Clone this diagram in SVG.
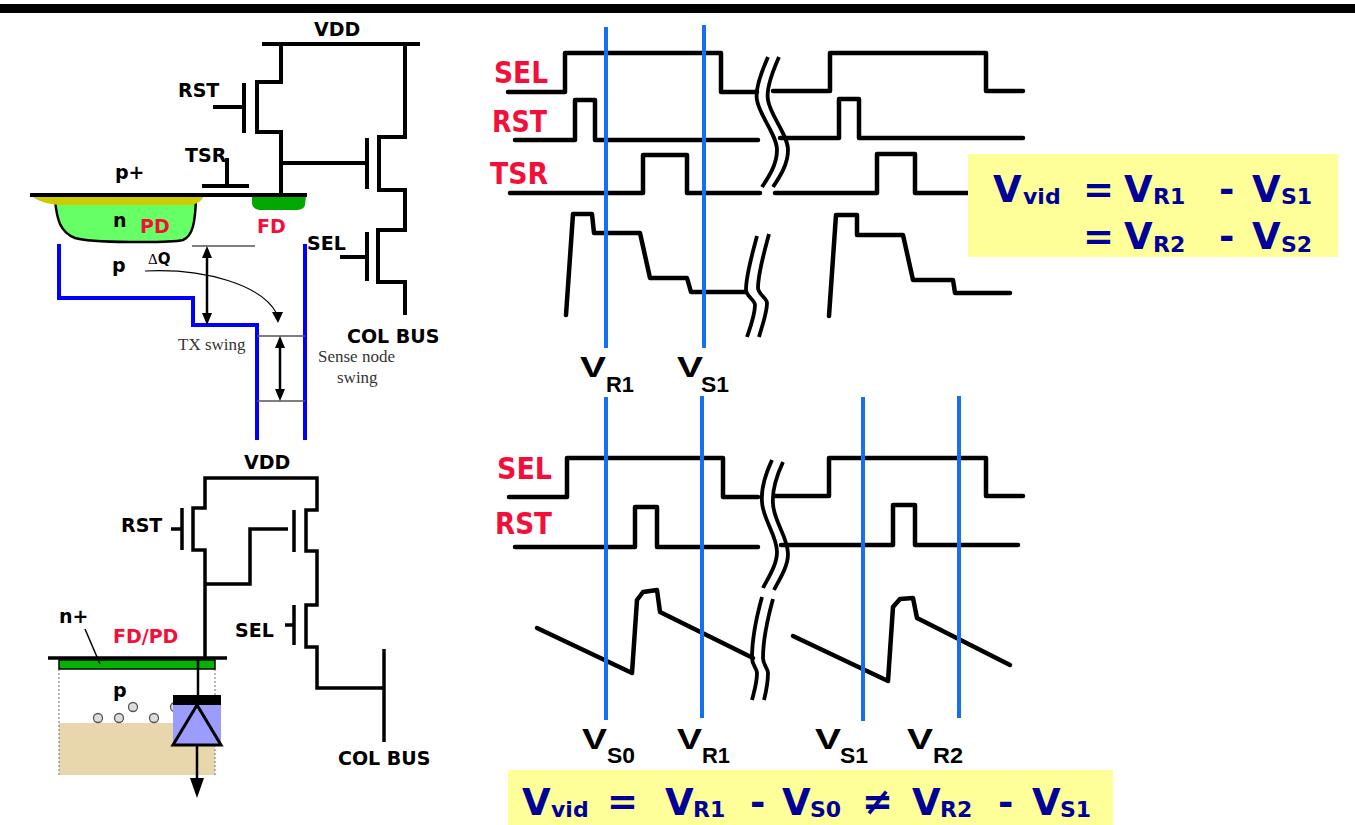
<svg xmlns="http://www.w3.org/2000/svg" width="1355" height="825" viewBox="0 0 1355 825">
  <style>
    .w { fill:none; stroke:#000; stroke-width:4; stroke-linejoin:miter; }
    .w2 { fill:none; stroke:#000; stroke-width:3.5; stroke-linejoin:miter; }
    .wv { fill:none; stroke:#000; stroke-width:4.5; stroke-linecap:round; stroke-linejoin:round; }
    .brk { fill:none; stroke:#000; stroke-width:3.8; }
    .cur { stroke:#1570ef; stroke-width:4; }
    .pot { fill:none; stroke:#0000ff; stroke-width:4; }
    .thin { stroke:#555; stroke-width:1.5; }
    .lbl { font-family:"DejaVu Sans",sans-serif; font-weight:bold; font-size:19px; fill:#000; }
    .red { fill:#f2103a; }
    .sig { font-family:"DejaVu Sans",sans-serif; font-weight:bold; font-size:31px; fill:#f2103a; }
    .vm { font-family:"Liberation Sans",Arial,sans-serif; font-weight:bold; font-size:29px; fill:#000; }
    .vs { font-family:"Liberation Sans",Arial,sans-serif; font-weight:bold; font-size:22px; fill:#000; }
    .ser { font-family:"Liberation Serif","DejaVu Serif",serif; font-size:17px; fill:#333; }
    .eq { font-family:"DejaVu Sans",sans-serif; font-weight:bold; font-size:37px; fill:#000099; }
    .eqs { font-family:"DejaVu Sans",sans-serif; font-weight:bold; font-size:22px; fill:#000099; }
    .box { fill:#ffff99; }
  </style>

  <!-- header rule -->
  <rect id="header-bar" x="0" y="4" width="1355" height="9" fill="#000"/>

  <!-- 4T pixel with pinned photodiode -->
  <g id="pixel-4t">
    <path d="M55,200 C57,220 60,232 75,238 C90,243 170,243 183,240 C193,236 195,222 196,200 Z" fill="#66ff66" stroke="#000" stroke-width="2.5"/>
    <path d="M31,195 H204 C203,200 198,204 190,205 H60 C45,204 35,200 31,195 Z" fill="#cccc00"/>
    <path d="M252,196 H306 L305,205 C304,209 300,210 296,210 H262 C256,210 253,208 252,204 Z" fill="#00a800"/>
    <path class="w" d="M30,195 H307" stroke-width="3"/>
    <path class="w" d="M262,44 H420"/>
    <path class="w" d="M281,44 V82 H257 V132 H281 V195"/>
    <path class="w" d="M281,163 H365"/>
    <path class="w" d="M244,83 V133 M213,107 H244"/>
    <path class="w" d="M367,138 V189"/>
    <path class="w" d="M405,44 V137 H379 V190 H405 V230 H378 V282 H405 V315"/>
    <path class="w" d="M367,232 V281 M340,257 H367"/>
    <path class="w" d="M202,186 H249 M227,158 V186"/>
    <text class="lbl" x="314" y="36">VDD</text>
    <text class="lbl" x="178" y="97">RST</text>
    <text class="lbl" x="185" y="162">TSR</text>
    <text class="lbl" x="115" y="179">p+</text>
    <text class="lbl" x="113" y="227">n</text>
    <text class="lbl red" x="140" y="233" font-size="19">PD</text>
    <text class="lbl red" x="257" y="233" font-size="19">FD</text>
    <text class="lbl" x="307" y="250">SEL</text>
    <text class="lbl" x="347" y="343">COL BUS</text>
  </g>

  <!-- potential well diagram -->
  <g id="potential-diagram">
    <path class="pot" d="M59,244 V298 H193 V325 H257 V440"/>
    <path class="pot" d="M305,244 V440"/>
    <path class="thin" d="M192,246 H255 M257,336 H305 M257,401 H305"/>
    <path d="M207,250 V321 M280,340 V397" stroke="#000" stroke-width="2.5"/>
    <polygon points="207,246 202,258 212,258" fill="#000"/>
    <polygon points="207,325 202,313 212,313" fill="#000"/>
    <polygon points="280,336 275,348 285,348" fill="#000"/>
    <polygon points="280,401 275,389 285,389" fill="#000"/>
    <path d="M145,271 C205,268 262,285 277,314" fill="none" stroke="#000" stroke-width="1.2"/>
    <polygon points="278,323 272,312 283,312" fill="#000"/>
    <text class="lbl" x="112" y="272">p</text>
    <text x="148" y="264" font-size="15"><tspan font-family="Liberation Serif,serif">Δ</tspan><tspan font-family="DejaVu Sans,sans-serif" font-weight="bold">Q</tspan></text>
    <text class="ser" x="178" y="350">TX swing</text>
    <text class="ser" x="318" y="362">Sense node</text>
    <text class="ser" x="337" y="383">swing</text>
  </g>

  <!-- 3T pixel -->
  <g id="pixel-3t">
    <rect x="59" y="723" width="156" height="52" fill="#e8d6ad"/>
    <path d="M59,669 V775 M215,669 V775" stroke="#888" stroke-width="1.2" stroke-dasharray="2,2"/>
    <g fill="#ddd" stroke="#555" stroke-width="1.3">
      <circle cx="98" cy="718" r="4.5"/>
      <circle cx="119" cy="718" r="4.5"/>
      <circle cx="133" cy="707" r="4.5"/>
      <circle cx="154" cy="718" r="4.5"/>
      <circle cx="175" cy="707" r="4.5"/>
    </g>
    <rect x="59" y="660" width="156" height="9" fill="#00b400" stroke="#000" stroke-width="1.5"/>
    <path class="w2" d="M48,658 H227"/>
    <path d="M198,659 V695" stroke="#000" stroke-width="2.5"/>
    <rect x="173" y="705" width="48" height="40" fill="#9c9cff"/>
    <rect x="173" y="695" width="48" height="10" fill="#000"/>
    <polygon points="197,705 173,745 221,745" fill="#9c9cff" stroke="#000" stroke-width="3" stroke-linejoin="miter"/>
    <path d="M197,745 V782" stroke="#000" stroke-width="2.5"/>
    <polygon points="190,778 204,778 197,798" fill="#000"/>
    <path d="M85,629 L100,664" stroke="#000" stroke-width="1.5"/>
    <path class="w2" d="M205,659 V550 H193 V508 H205 V478 H317 V510 H306 V551 H317 V605 H306 V647 H317 V688 H384"/>
    <path class="w2" d="M182,508 V550 M171,529 H182"/>
    <path class="w2" d="M205,584 H250 V529 H288 M294,510 V552"/>
    <path class="w2" d="M294,605 V645 M285,625 H294"/>
    <path class="w2" d="M384,649 V742"/>
    <text class="lbl" x="244" y="469">VDD</text>
    <text class="lbl" x="121" y="532">RST</text>
    <text class="lbl" x="235" y="637">SEL</text>
    <text class="lbl" x="59" y="623">n+</text>
    <text class="lbl red" x="113" y="643" font-size="20">FD/PD</text>
    <text class="lbl" x="113" y="697">p</text>
    <text class="lbl" x="338" y="765">COL BUS</text>
  </g>

  <!-- timing, 4T readout -->
  <g id="timing-4t">
    <path class="wv" d="M508,92 H565 V53 H721 V92 H757 M773,91 H830 V53 H986 V91 H1023"/>
    <path class="wv" d="M515,140 H575 V100 H595 V140 H758 M780,138 H839 V99 H859 V138 H1023"/>
    <path class="wv" d="M510,193 H643 V155 H687 V193 H760 M775,193 H877 V154 H915 V193 H968"/>
    <path class="wv" d="M566,315 L573,214 H592 L594,233 H640 L650,278 H687 L691,292 H746"/>
    <path class="wv" d="M829,316 L836,215 H857 V235 H903 L913,280 H953 L955,293 H1010"/>
    <path class="brk" d="M768,57 C760,75 755,90 757,100 C759,115 777,135 777,150 C777,165 768,178 762,187"/>
    <path class="brk" d="M779,57 C771,75 766,90 768,100 C770,115 788,135 788,150 C788,165 779,178 773,187"/>
    <path class="brk" d="M757,236 C752,255 746,275 746,290 C746,296 755,300 755,305 C755,315 750,328 747,337"/>
    <path class="brk" d="M769,234 C764,253 758,273 758,288 C758,294 767,298 767,303 C767,313 762,326 759,337"/>
    <line class="cur" x1="606" y1="27" x2="606" y2="348"/>
    <line class="cur" x1="704" y1="25" x2="704" y2="348"/>
    <text class="sig" x="494" y="83" textLength="54" lengthAdjust="spacingAndGlyphs">SEL</text>
    <text class="sig" x="492" y="132" textLength="55" lengthAdjust="spacingAndGlyphs">RST</text>
    <text class="sig" x="490" y="184" textLength="58" lengthAdjust="spacingAndGlyphs">TSR</text>
    <text class="vm" x="580" y="377" textLength="26" lengthAdjust="spacingAndGlyphs">V</text>
    <text class="vs" x="606" y="392" textLength="28" lengthAdjust="spacingAndGlyphs">R1</text>
    <text class="vm" x="677" y="377" textLength="26" lengthAdjust="spacingAndGlyphs">V</text>
    <text class="vs" x="701" y="392" textLength="28" lengthAdjust="spacingAndGlyphs">S1</text>
  </g>

  <!-- timing, 3T readout -->
  <g id="timing-3t">
    <path class="wv" d="M509,497 H567 V458 H723 V497 H758 M775,496 H829 V458 H986 V496 H1023"/>
    <path class="wv" d="M515,547 H635 V507 H657 V547 H758 M781,545 H893 V505 H915 V545 H1018"/>
    <path class="wv" d="M537,628 L632,673 L637,600 L643,592 L657,590 L660,612 L753,658"/>
    <path class="wv" d="M793,636 L888,681 L893,607 L900,599 L913,598 L917,618 L1010,665"/>
    <path class="brk" d="M772,460 C765,475 761,490 762,502 C763,520 777,535 777,552 C777,565 768,578 763,588"/>
    <path class="brk" d="M783,462 C776,477 772,492 773,504 C774,522 788,537 788,554 C788,567 779,580 774,590"/>
    <path class="brk" d="M762,597 C757,615 752,640 752,658 C752,665 757,668 757,673 C757,683 754,692 752,700"/>
    <path class="brk" d="M773,599 C768,617 763,642 763,658 C763,665 768,668 768,673 C768,683 766,692 764,700"/>
    <line class="cur" x1="606" y1="397" x2="606" y2="720"/>
    <line class="cur" x1="702" y1="396" x2="702" y2="718"/>
    <line class="cur" x1="863" y1="397" x2="863" y2="721"/>
    <line class="cur" x1="959" y1="396" x2="959" y2="718"/>
    <text class="sig" x="497" y="479" textLength="55" lengthAdjust="spacingAndGlyphs">SEL</text>
    <text class="sig" x="495" y="534" textLength="57" lengthAdjust="spacingAndGlyphs">RST</text>
    <text class="vm" x="582" y="749" textLength="25" lengthAdjust="spacingAndGlyphs">V</text>
    <text class="vs" x="607" y="763" textLength="28" lengthAdjust="spacingAndGlyphs">S0</text>
    <text class="vm" x="677" y="749" textLength="25" lengthAdjust="spacingAndGlyphs">V</text>
    <text class="vs" x="702" y="763" textLength="28" lengthAdjust="spacingAndGlyphs">R1</text>
    <text class="vm" x="815" y="749" textLength="26" lengthAdjust="spacingAndGlyphs">V</text>
    <text class="vs" x="840" y="763" textLength="28" lengthAdjust="spacingAndGlyphs">S1</text>
    <text class="vm" x="907" y="749" textLength="26" lengthAdjust="spacingAndGlyphs">V</text>
    <text class="vs" x="933" y="763" textLength="30" lengthAdjust="spacingAndGlyphs">R2</text>
  </g>

  <!-- CDS equation -->
  <g id="eq-cds">
    <rect class="box" x="968" y="154" width="370" height="103"/>
    <text class="eq" x="993" y="202">V</text>
    <text class="eqs" x="1023" y="204">vid</text>
    <text class="eq" x="1083" y="202" font-size="36">=</text>
    <text class="eq" x="1124" y="202">V</text>
    <text class="eqs" x="1153" y="204">R1</text>
    <text class="eq" x="1219" y="202">-</text>
    <text class="eq" x="1252" y="202">V</text>
    <text class="eqs" x="1281" y="204">S1</text>
    <text class="eq" x="1083" y="249" font-size="36">=</text>
    <text class="eq" x="1124" y="249">V</text>
    <text class="eqs" x="1153" y="252">R2</text>
    <text class="eq" x="1219" y="249">-</text>
    <text class="eq" x="1252" y="249">V</text>
    <text class="eqs" x="1281" y="252">S2</text>
  </g>

  <!-- non-CDS equation -->
  <g id="eq-noncds">
    <rect class="box" x="508" y="770" width="605" height="55"/>
    <text class="eq" x="522" y="815" font-size="35">V</text>
    <text class="eqs" x="551" y="817" font-size="21">vid</text>
    <text class="eq" x="607" y="814" font-size="34">=</text>
    <text class="eq" x="665" y="815" font-size="35">V</text>
    <text class="eqs" x="693" y="817" font-size="21">R1</text>
    <text class="eq" x="750" y="815" font-size="35">-</text>
    <text class="eq" x="782" y="815" font-size="35">V</text>
    <text class="eqs" x="810" y="817" font-size="21">S0</text>
    <text class="eq" x="862" y="814" font-size="34">≠</text>
    <text class="eq" x="912" y="815" font-size="35">V</text>
    <text class="eqs" x="940" y="817" font-size="21">R2</text>
    <text class="eq" x="998" y="815" font-size="35">-</text>
    <text class="eq" x="1032" y="815" font-size="35">V</text>
    <text class="eqs" x="1060" y="817" font-size="21">S1</text>
  </g>
</svg>
